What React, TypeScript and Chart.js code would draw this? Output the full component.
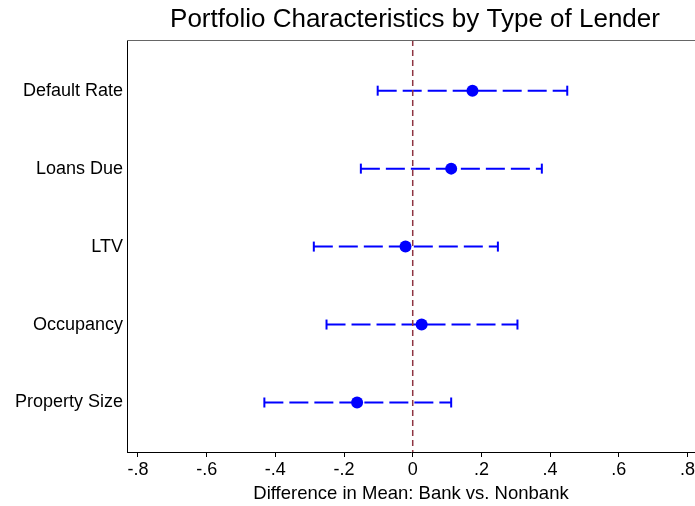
import React, { useEffect, useRef } from "react";
import { Chart, registerables } from "chart.js";

Chart.register(...registerables);

const categories = ["Default Rate", "Loans Due", "LTV", "Occupancy", "Property Size"];
const estimates = [0.174, 0.112, -0.021, 0.026, -0.162];
const lowerCI = [-0.102, -0.151, -0.288, -0.251, -0.432];
const upperCI = [0.45, 0.376, 0.248, 0.305, 0.112];
const xTicks = [-0.8, -0.6, -0.4, -0.2, 0, 0.2, 0.4, 0.6, 0.8];

const TITLE = "Portfolio Characteristics by Type of Lender";
const X_TITLE = "Difference in Mean: Bank vs. Nonbank";
const FONT = "'Liberation Sans', Arial, sans-serif";
const BLUE = "#0000ff";
const MAROON = "#8e3442";

const fmt = (v: number) => {
  if (Math.abs(v) < 1e-9) return "0";
  const s = (Math.round(v * 10) / 10).toString();
  return s.replace("0.", ".");
};

export default function App() {
  const ref = useRef<HTMLCanvasElement | null>(null);

  useEffect(() => {
    const canvas = ref.current;
    if (!canvas) return;
    const yMin = 0.35;
    const yMax = categories.length + 0.635;

    const ciSets = categories.map((_, i) => ({
      type: "line" as const,
      data: [
        { x: lowerCI[i], y: i + 1 },
        { x: upperCI[i], y: i + 1 },
      ],
      borderColor: BLUE,
      backgroundColor: BLUE,
      borderWidth: 2,
      borderDash: [19, 6],
      showLine: true,
      pointStyle: "line",
      rotation: 90,
      pointRadius: 5,
      pointBorderWidth: 2,
      pointBorderColor: BLUE,
      order: 3,
    }));

    const zeroLine = {
      type: "line" as const,
      data: [
        { x: 0, y: yMin },
        { x: 0, y: yMax },
      ],
      borderColor: MAROON,
      borderWidth: 1.5,
      borderDash: [6, 4],
      showLine: true,
      pointRadius: 0,
      order: 0,
    };

    const pointSet = {
      type: "scatter" as const,
      data: estimates.map((v, i) => ({ x: v, y: i + 1 })),
      backgroundColor: BLUE,
      borderColor: BLUE,
      pointRadius: 6,
      pointBorderWidth: 0,
      order: 1,
    };

    const decor = {
      id: "decor",
      afterDraw(chart: any) {
        const { ctx, chartArea } = chart;
        ctx.save();
        ctx.strokeStyle = "#666666";
        ctx.lineWidth = 1;
        ctx.beginPath();
        ctx.moveTo(chartArea.left, chartArea.top + 0.5);
        ctx.lineTo(chartArea.right, chartArea.top + 0.5);
        ctx.stroke();
        ctx.fillStyle = "#000";
        ctx.font = `26px ${FONT}`;
        ctx.textAlign = "center";
        ctx.textBaseline = "middle";
        ctx.fillText(TITLE, (chartArea.left + chartArea.right) / 2 + 4, 20);
        ctx.restore();
      },
    };

    const chart = new Chart(canvas, {
      type: "scatter",
      data: { datasets: [zeroLine as any, pointSet as any, ...(ciSets as any)] },
      options: {
        animation: false,
        responsive: false,
        devicePixelRatio: 1,
        layout: { autoPadding: false, padding: { top: 40, right: 0, bottom: 0, left: 0 } },
        plugins: { legend: { display: false }, tooltip: { enabled: false }, title: { display: false } },
        scales: {
          x: {
            type: "linear",
            min: -0.832,
            max: 0.822,
            afterBuildTicks: (scale: any) => {
              scale.ticks = xTicks.map((v) => ({ value: v }));
            },
            afterFit: (scale: any) => {
              scale.height = 54;
              scale.paddingLeft = 0;
              scale.paddingRight = 0;
            },
            grid: { display: true, drawOnChartArea: false, drawTicks: true, tickLength: 5, color: "#000", lineWidth: 1 },
            border: { display: true, color: "#000", width: 1 },
            ticks: {
              color: "#000",
              font: { family: FONT, size: 18 },
              padding: 2,
              maxRotation: 0,
              autoSkip: false,
              callback: (v: any) => fmt(Number(v)),
            },
            title: {
              display: true,
              text: X_TITLE,
              color: "#000",
              font: { family: FONT, size: 18.5 },
              padding: { top: 0, bottom: 1 },
            },
          },
          y: {
            type: "linear",
            reverse: true,
            min: yMin,
            max: yMax,
            afterBuildTicks: (scale: any) => {
              scale.ticks = categories.map((_, i) => ({ value: i + 1 }));
            },
            afterFit: (scale: any) => {
              scale.width = 127;
              scale.paddingTop = 0;
              scale.paddingBottom = 0;
            },
            grid: { display: false, drawTicks: false },
            border: { display: true, color: "#000", width: 1 },
            ticks: {
              color: "#000",
              font: { family: FONT, size: 18 },
              padding: 4,
              autoSkip: false,
              callback: (v: any) => categories[Math.round(Number(v)) - 1] ?? "",
            },
          },
        },
      },
      plugins: [decor],
    } as any);

    return () => chart.destroy();
  }, []);

  return (
    <div style={{ position: "absolute", left: 0, top: 0, width: 695, height: 506, background: "#fff" }}>
      <canvas ref={ref} width={695} height={506} style={{ display: "block", width: 695, height: 506 }} />
    </div>
  );
}
